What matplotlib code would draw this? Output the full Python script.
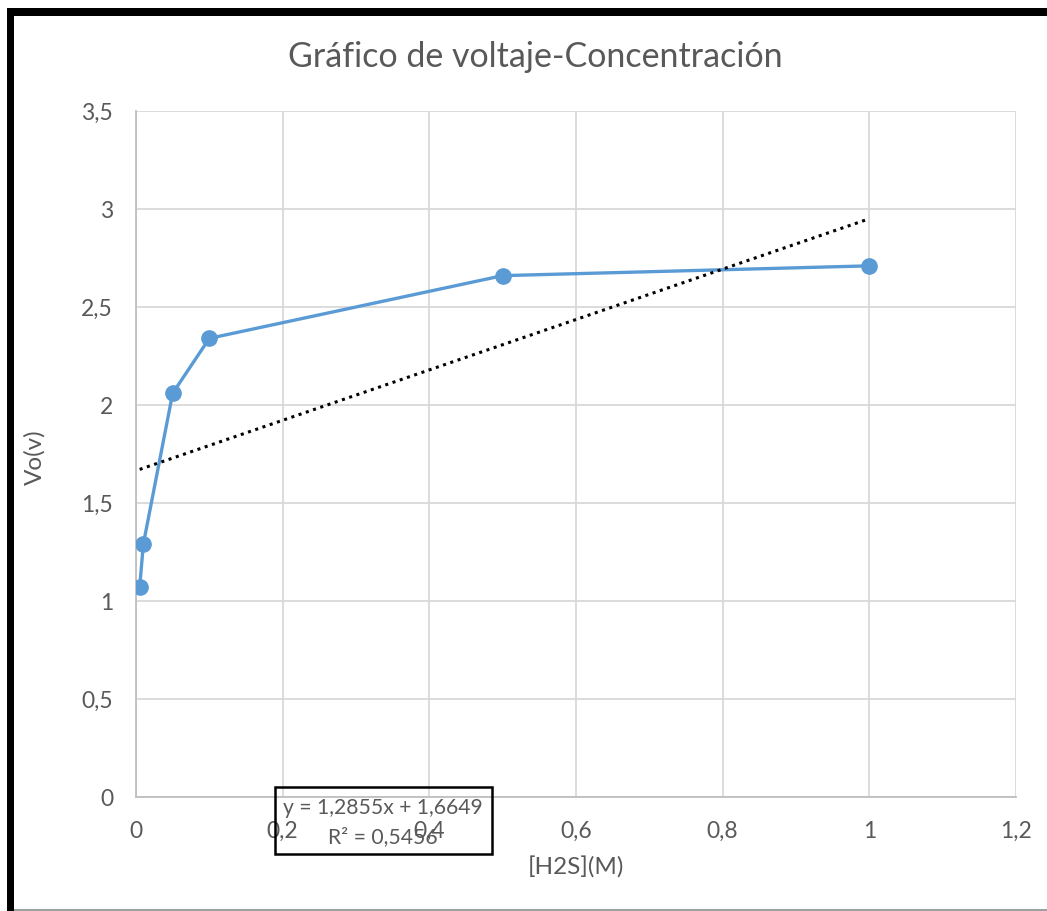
import matplotlib
matplotlib.use("Agg")
import matplotlib.pyplot as plt
from matplotlib.patches import Rectangle
from matplotlib.ticker import FuncFormatter, MultipleLocator

# Measured data: H2S concentration (M) vs. output voltage (V)
concentration = [0.005, 0.01, 0.05, 0.1, 0.5, 1.0]
voltage = [1.07, 1.29, 2.06, 2.34, 2.66, 2.71]

# Linear trendline coefficients
slope = 1.2855
intercept = 1.6649
r_squared = 0.5456

title = "Gráfico de voltaje-Concentración"
x_label = "[H2S](M)"
y_label = "Vo(v)"

plt.rcParams["font.family"] = ["Lato", "DejaVu Sans"]
text_gray = "#595959"
grid_gray = "#d9d9d9"
blue = "#5B9BD5"

W, H = 1047, 911
fig = plt.figure(figsize=(W / 100, H / 100), dpi=100)
fig.patch.set_facecolor("white")

ax = fig.add_axes([136 / W, 1 - 797 / H, (1016 - 136) / W, (797 - 111) / H])
ax.set_xlim(0, 1.2)
ax.set_ylim(0, 3.5)
ax.xaxis.set_major_locator(MultipleLocator(0.2))
ax.yaxis.set_major_locator(MultipleLocator(0.5))

def comma(v, pos):
    s = f"{v:.1f}".rstrip("0").rstrip(".")
    return s.replace(".", ",")

ax.xaxis.set_major_formatter(FuncFormatter(comma))
ax.yaxis.set_major_formatter(FuncFormatter(comma))

ax.grid(True, color=grid_gray, linewidth=1.3)
ax.set_axisbelow(True)
for side in ["top", "right"]:
    ax.spines[side].set_visible(False)
for side in ["left", "bottom"]:
    ax.spines[side].set_color("#bfbfbf")
    ax.spines[side].set_linewidth(1.3)
ax.tick_params(length=0, labelsize=16.5, labelcolor=text_gray)
ax.tick_params(axis="x", pad=17)
ax.tick_params(axis="y", pad=16.5)

# Series
ax.plot(concentration, voltage, color=blue, linewidth=2.4, marker="o",
        markersize=11, zorder=3)

# Trendline across the data range
x0, x1 = min(concentration), max(concentration)
ax.plot([x0, x1], [slope * x0 + intercept, slope * x1 + intercept],
        color="black", linestyle=(0, (1, 1.5)), linewidth=2.2, zorder=4)

fig.text(535 / W, 1 - 57 / H, title, ha="center", va="center",
         fontsize=24.5, color=text_gray)
fig.text(576 / W, 1 - 868 / H, x_label, ha="center", va="center",
         fontsize=17.5, color=text_gray)
fig.text(35 / W, 1 - 457 / H, y_label, ha="center", va="center",
         fontsize=17.5, color=text_gray, rotation=90)

# Trendline equation box
fig.patches.append(Rectangle((275 / W, 1 - 854 / H), (492 - 275) / W,
                             (854 - 787) / H, transform=fig.transFigure,
                             fill=False, edgecolor="black", linewidth=1.8,
                             zorder=5))
eq = f"y = {slope:.4f}x + {intercept:.4f}".replace(".", ",")
r2 = f"R² = {r_squared:.4f}".replace(".", ",")
fig.text(383 / W, 1 - 808 / H, eq, ha="center", va="center",
         fontsize=15.2, color=text_gray, zorder=6)
fig.text(383 / W, 1 - 837 / H, r2, ha="center", va="center",
         fontsize=15.2, color=text_gray, zorder=6)

# Outer frame
fig.patches.append(Rectangle((7 / W, 1 - 16 / H), (W - 7) / W, 8 / H,
                             transform=fig.transFigure, facecolor="black",
                             edgecolor="none"))
fig.patches.append(Rectangle((7 / W, 0), 7 / W, 1 - 8 / H,
                             transform=fig.transFigure, facecolor="black",
                             edgecolor="none"))
fig.patches.append(Rectangle((14 / W, 0), (W - 14) / W, 2 / H,
                             transform=fig.transFigure, facecolor="#a0a0a0",
                             edgecolor="none"))

fig.savefig("out.png", dpi=100)
